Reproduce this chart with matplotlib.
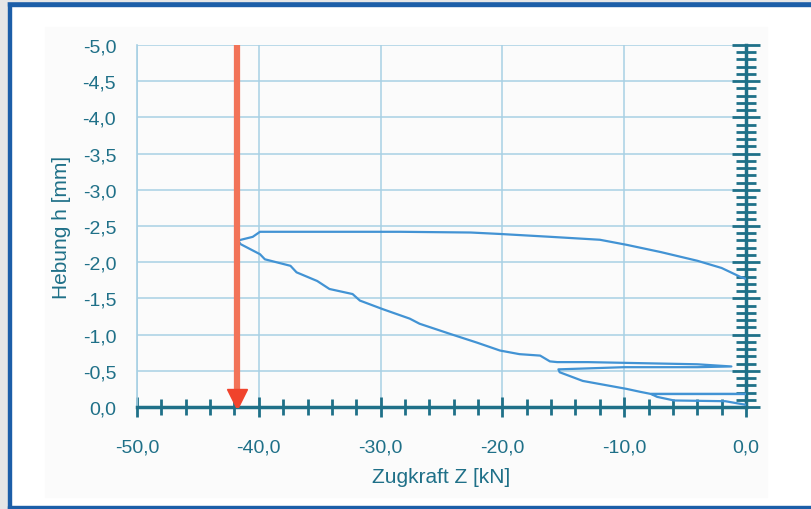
import matplotlib.pyplot as plt
from matplotlib.patches import Rectangle
from matplotlib.ticker import MultipleLocator, FuncFormatter

plt.rcParams['font.family'] = ['Liberation Sans', 'DejaVu Sans']

# measured curve: Zugkraft Z [kN] vs Hebung h [mm]
zugkraft = [0.0, -1.7, -5.9, -7.3, -7.8, -4.0, 0.0, -4.0, -7.8, -8.7, -9.8,
            -13.4, -15.3, -15.4, -10.0, -4.0, -1.2, -4.0, -10.0, -13.0, -15.5,
            -16.1, -16.9, -18.6, -20.2, -22.1, -24.3, -26.8, -27.6, -29.8,
            -31.7, -32.3, -34.2, -35.2, -36.9, -37.4, -39.5, -39.9, -41.5,
            -41.7, -40.5, -39.9, -35.0, -28.4, -22.6, -20.2, -16.0, -12.0,
            -9.8, -7.0, -4.0, -2.0, -0.5, 0.0]
hebung = [-0.03, -0.08, -0.09, -0.14, -0.18, -0.18, -0.18, -0.18, -0.18,
          -0.21, -0.25, -0.36, -0.48, -0.52, -0.55, -0.55, -0.56, -0.59, -0.61,
          -0.62, -0.62, -0.63, -0.71, -0.73, -0.78, -0.89, -1.01, -1.15, -1.22,
          -1.35, -1.47, -1.56, -1.63, -1.74, -1.86, -1.95, -2.04, -2.11, -2.25,
          -2.30, -2.35, -2.42, -2.42, -2.42, -2.41, -2.39, -2.35, -2.31, -2.24,
          -2.14, -2.02, -1.92, -1.80, -1.77]

arrow_z = -41.8   # Pfeil: Zugkraft-Grenze

teal = '#1f7088'
grid_blue = '#a8d0e4'
line_blue = '#4293d4'

fig = plt.figure(figsize=(8.12, 5.10), dpi=100)
fig.patch.set_facecolor('white')

# frame round the picture
def band(x, y, w, h, c):
    fig.patches.append(Rectangle((x / 812, y / 510), w / 812, h / 510,
                                 transform=fig.transFigure, color=c, zorder=-5))

band(45, 12, 722, 470, '#fbfbfb')
band(0, 0, 8, 510, '#e6e6e6')
band(8, 0, 3.5, 510, '#1c5ea8')
band(8, 503, 804, 5, '#1c5ea8')
band(0, 508, 812, 2, '#e6e6e6')
band(8, 0, 804, 3, '#1c5ea8')

ax = fig.add_axes([137 / 812, 102 / 510, 609 / 812, 362 / 510], zorder=2)
ax.set_facecolor('none')
ax.set_xlim(-50, 0)
ax.set_ylim(0, -5)

ax.xaxis.set_major_locator(MultipleLocator(10))
ax.xaxis.set_minor_locator(MultipleLocator(2))
ax.yaxis.set_major_locator(MultipleLocator(0.5))
ax.yaxis.set_minor_locator(MultipleLocator(0.1))
fmt = FuncFormatter(lambda v, p: f'{v:.1f}'.replace('.', ','))
ax.xaxis.set_major_formatter(fmt)
ax.yaxis.set_major_formatter(fmt)

ax.grid(True, which='major', color=grid_blue, lw=1.1)
ax.set_axisbelow(True)

ax.spines['top'].set_visible(False)
ax.spines['left'].set_color(grid_blue)
ax.spines['left'].set_linewidth(1.2)
ax.spines['bottom'].set_color(teal)
ax.spines['bottom'].set_linewidth(2.5)
ax.spines['right'].set_color(teal)
ax.spines['right'].set_linewidth(2.5)

ax.tick_params(axis='x', which='both', direction='inout', color=teal, width=2,
               labelcolor=teal, labelsize=14, pad=16)
ax.tick_params(axis='x', which='major', length=14)
ax.tick_params(axis='x', which='minor', length=12)
ax.tick_params(axis='y', which='both', left=False, right=True, direction='inout',
               color=teal, width=2, labelcolor=teal, labelsize=14, pad=5)
ax.tick_params(axis='y', which='major', length=20)
ax.tick_params(axis='y', which='minor', length=14)

ax.plot(zugkraft, hebung, color=line_blue, lw=1.6, zorder=3)

# red arrow
ax.plot([arrow_z, arrow_z], [-5, -0.15], color='#f27358', lw=4.5,
        solid_capstyle='butt', zorder=4)
ax.plot([arrow_z], [-0.11], marker='v', ms=15, color='#f0432c', mec='#f0432c', zorder=5)

ax.set_xlabel('Zugkraft Z [kN]', color=teal, fontsize=15, labelpad=8)
ax.set_ylabel('Hebung h [mm]', color=teal, fontsize=15, labelpad=8)

fig.savefig('out.png', dpi=100)
